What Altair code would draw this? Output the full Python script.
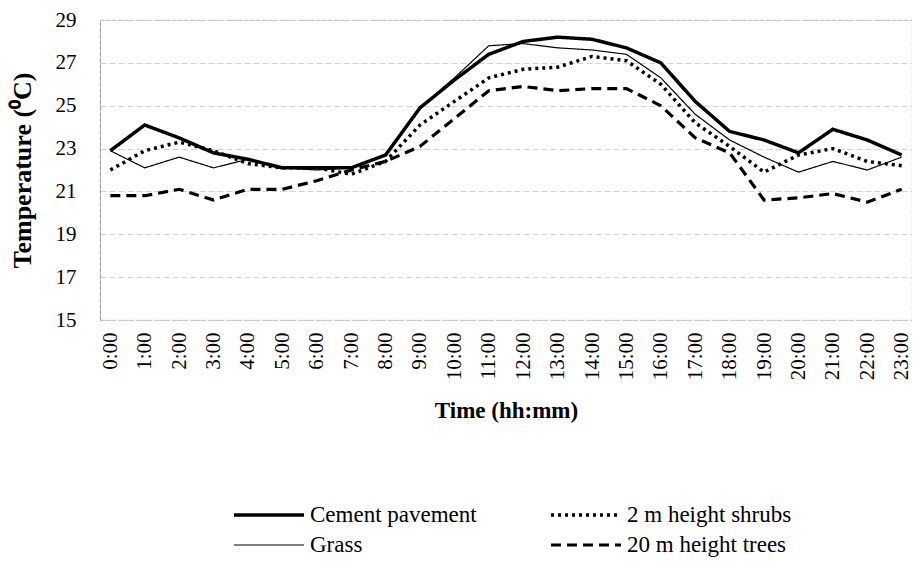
import altair as alt
import pandas as pd

hours = [f"{h}:00" for h in range(24)]
cement = [22.9, 24.1, 23.5, 22.8, 22.5, 22.1, 22.1, 22.1, 22.7, 24.9, 26.2, 27.4, 28.0, 28.2, 28.1, 27.7, 27.0, 25.2, 23.8, 23.4, 22.8, 23.9, 23.4, 22.7]
grass = [22.9, 22.1, 22.6, 22.1, 22.5, 22.1, 22.0, 22.1, 22.7, 24.9, 26.3, 27.8, 27.9, 27.7, 27.6, 27.4, 26.3, 24.6, 23.4, 22.6, 21.9, 22.4, 22.0, 22.6]
shrubs = [22.0, 22.9, 23.3, 22.9, 22.3, 22.1, 22.1, 21.8, 22.4, 24.1, 25.2, 26.3, 26.7, 26.8, 27.3, 27.1, 26.0, 24.2, 23.1, 21.9, 22.7, 23.0, 22.4, 22.2]
trees = [20.8, 20.8, 21.1, 20.6, 21.1, 21.1, 21.5, 22.0, 22.4, 23.1, 24.4, 25.7, 25.9, 25.7, 25.8, 25.8, 25.0, 23.5, 22.8, 20.6, 20.7, 20.9, 20.5, 21.1]

series_names = ["Cement pavement", "Grass", "2 m height shrubs", "20 m height trees"]
series_values = [cement, grass, shrubs, trees]

rows = []
for name, vals in zip(series_names, series_values):
    for h, v in zip(hours, vals):
        rows.append({"Time": h, "Temp": v, "Series": name})
df = pd.DataFrame(rows)

FONT = "Liberation Serif"

legend = alt.Legend(title=None, orient="none", legendX=132, legendY=482,
                    columns=2, columnPadding=72, rowPadding=4, clipHeight=26,
                    symbolType="stroke", symbolSize=4900, symbolStrokeColor="black",
                    labelFont=FONT, labelFontSize=23, labelColor="black",
                    labelOffset=4, labelLimit=400)

chart = alt.Chart(df).mark_line(color="black").encode(
    x=alt.X("Time:O", sort=hours, scale=alt.Scale(type="point", padding=0.3),
            axis=alt.Axis(title="Time (hh:mm)", labelAngle=-90, labelPadding=12,
                          titlePadding=20, domain=False, ticks=False, grid=False)),
    y=alt.Y("Temp:Q", scale=alt.Scale(domain=[15, 29], nice=False, zero=False),
            axis=alt.Axis(title="Temperature (⁰C)", values=list(range(15, 30, 2)),
                          labelPadding=24, titlePadding=20, ticks=False,
                          titleFontSize=26,
                          domainColor="#999", domainDash=[4, 2], domainWidth=1,
                          gridColor="#c8c8c8", gridDash=[6, 3], gridWidth=0.8)),
    strokeDash=alt.StrokeDash("Series:N",
        scale=alt.Scale(domain=series_names, type="ordinal",
                        range=[[1, 0], [1, 0], [3, 4], [10, 6]]),
        legend=legend),
    strokeWidth=alt.StrokeWidth("Series:N",
        scale=alt.Scale(domain=series_names, type="ordinal", range=[3.5, 1.2, 3.5, 3.2]),
        legend=legend),
).properties(
    width=812, height=300,
    autosize=alt.AutoSizeParams(type="none"),
    padding={"left": 92, "top": 12, "right": 0, "bottom": 240},
).configure_axis(
    labelFont=FONT, labelFontSize=21, labelColor="black",
    titleFont=FONT, titleFontSize=23, titleFontWeight="bold", titleColor="black",
).configure_view(
    stroke="#aaa", strokeWidth=0.8, strokeDash=[4, 2]
)

chart.save("out.html", embed_options={"renderer": "svg", "actions": False})
